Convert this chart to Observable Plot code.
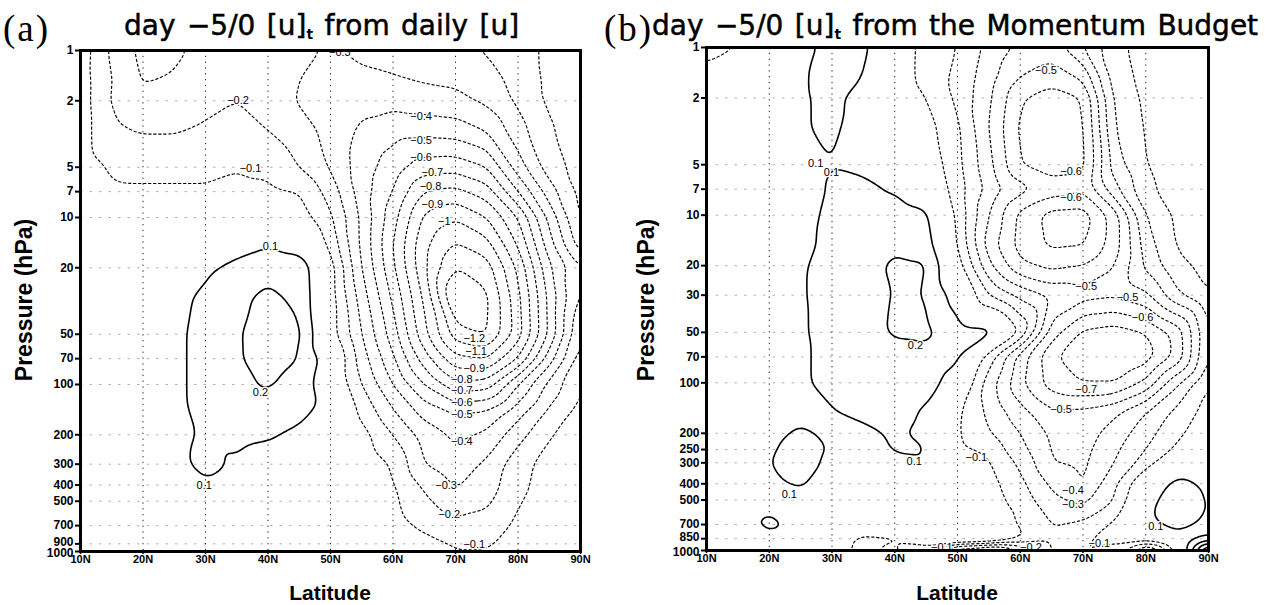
<!DOCTYPE html>
<html>
<head>
<meta charset="utf-8">
<script src="https://cdn.jsdelivr.net/npm/d3@7"></script>
<script src="https://cdn.jsdelivr.net/npm/@observablehq/plot@0.6"></script>
<style>
  body { margin: 0; background: #fff; }
  #page { position: relative; width: 1266px; height: 605px; overflow: hidden; background: #fff; }
  .panel { position: absolute; top: 0; }
  .tag { position: absolute; font-family: "Liberation Serif", "Times New Roman", serif; font-size: 37px; letter-spacing: 2px; line-height: 1; }
  .title { position: absolute; font-family: "DejaVu Sans", sans-serif; font-size: 28px; line-height: 1; white-space: nowrap;
           word-spacing: 2.5px; -webkit-text-stroke: 0.5px #000; }
  .title sub { font-size: 14px; font-weight: bold; vertical-align: -4px; word-spacing: 0; -webkit-text-stroke: 0; }
  .xlab, .ylab { position: absolute; font-family: "Liberation Sans", Arial, sans-serif; font-weight: bold; line-height: 1; white-space: nowrap; }
  .ylab { font-size: 23px; transform: translate(-50%, -50%) rotate(-90deg); }
  .xlab { font-size: 21px; transform: translate(-50%, -50%); }
</style>
</head>
<body>
<div id="page"></div>
<script>
// Latitude columns shared by both panels (degrees N)
const latitudes = [10, 15, 20, 25, 30, 35, 40, 45, 50, 55, 60, 65, 70, 75, 80, 85, 90];
const latTicks = [10, 20, 30, 40, 50, 60, 70, 80, 90];

// (a) tendency of [u] from daily [u]; one row per pressure level (hPa)
const levelsA = [1, 1.5, 2, 3, 5, 7, 10, 15, 20, 30, 50, 70, 100, 150, 200, 300, 400, 500, 700, 850, 1000];
const tendA = [
  [-0.04,-0.22,-0.33,-0.32,-0.27,-0.25,-0.25,-0.28,-0.31,-0.28,-0.26,-0.24,-0.22,-0.19,-0.14,-0.08,-0.05],
  [-0.05,-0.20,-0.31,-0.29,-0.24,-0.23,-0.25,-0.30,-0.33,-0.32,-0.31,-0.29,-0.28,-0.25,-0.16,-0.08,-0.05],
  [-0.05,-0.21,-0.26,-0.24,-0.22,-0.20,-0.24,-0.31,-0.35,-0.37,-0.37,-0.35,-0.33,-0.28,-0.18,-0.08,-0.05],
  [-0.05,-0.19,-0.21,-0.21,-0.19,-0.17,-0.20,-0.26,-0.33,-0.42,-0.46,-0.46,-0.45,-0.39,-0.24,-0.11,-0.05],
  [-0.05,-0.11,-0.12,-0.12,-0.12,-0.105,-0.12,-0.20,-0.31,-0.45,-0.55,-0.65,-0.66,-0.60,-0.35,-0.15,-0.06],
  [-0.05,-0.09,-0.09,-0.09,-0.09,-0.08,-0.08,-0.10,-0.24,-0.45,-0.60,-0.80,-0.83,-0.75,-0.50,-0.25,-0.07],
  [-0.04,-0.07,-0.07,-0.07,-0.06,-0.06,-0.06,-0.05,-0.18,-0.42,-0.66,-0.92,-0.99,-0.90,-0.70,-0.37,-0.08],
  [-0.03,-0.04,-0.03,-0.02,0.02,0.06,0.10,0.06,-0.12,-0.42,-0.70,-0.98,-1.12,-1.05,-0.80,-0.45,-0.15],
  [-0.02,-0.01,0.00,0.02,0.08,0.13,0.17,0.17,-0.05,-0.40,-0.68,-0.98,-1.20,-1.15,-0.88,-0.52,-0.30],
  [0.00,0.02,0.04,0.07,0.12,0.18,0.22,0.18,-0.05,-0.35,-0.62,-0.92,-1.32,-1.22,-0.93,-0.57,-0.27],
  [0.01,0.03,0.05,0.08,0.13,0.19,0.25,0.22,-0.05,-0.30,-0.55,-0.87,-1.15,-1.21,-0.95,-0.58,-0.20],
  [0.02,0.03,0.05,0.08,0.13,0.19,0.24,0.20,0.04,-0.25,-0.48,-0.75,-0.97,-1.00,-0.80,-0.45,-0.15],
  [0.02,0.03,0.05,0.08,0.13,0.18,0.21,0.16,0.02,-0.20,-0.40,-0.60,-0.77,-0.75,-0.50,-0.27,-0.10],
  [0.02,0.03,0.05,0.08,0.12,0.15,0.15,0.12,0.06,-0.12,-0.28,-0.43,-0.50,-0.47,-0.33,-0.17,-0.06],
  [0.02,0.03,0.05,0.08,0.11,0.12,0.11,0.08,0.03,-0.06,-0.20,-0.34,-0.42,-0.38,-0.24,-0.11,-0.04],
  [0.02,0.03,0.05,0.08,0.12,0.09,0.06,0.04,0.02,-0.03,-0.11,-0.30,-0.36,-0.28,-0.14,-0.06,-0.02],
  [0.02,0.03,0.04,0.06,0.09,0.07,0.05,0.03,0.01,-0.02,-0.09,-0.22,-0.31,-0.25,-0.13,-0.05,-0.01],
  [0.01,0.02,0.03,0.04,0.05,0.05,0.04,0.02,0.01,-0.01,-0.08,-0.18,-0.26,-0.22,-0.11,-0.04,-0.01],
  [0.01,0.01,0.02,0.03,0.03,0.03,0.02,0.01,0.00,-0.02,-0.06,-0.12,-0.17,-0.16,-0.08,-0.03,0.00],
  [0.00,0.01,0.01,0.02,0.02,0.02,0.01,0.00,0.00,-0.01,-0.04,-0.08,-0.12,-0.12,-0.06,-0.02,0.00],
  [0.00,0.00,0.01,0.01,0.01,0.01,0.00,0.00,0.00,-0.01,-0.03,-0.06,-0.09,-0.09,-0.05,-0.02,0.00]
];

// (b) tendency of [u] from the momentum budget
const levelsB = [1, 1.5, 2, 3, 5, 7, 10, 15, 20, 30, 50, 70, 100, 150, 200, 250, 300, 400, 500, 600, 700, 850, 925, 1000];
const tendB = [
  [-0.12,-0.10,0.00,0.07,0.13,0.12,0.00,-0.15,-0.20,-0.33,-0.42,-0.45,-0.30,-0.13,-0.06,-0.05,-0.05],
  [-0.08,-0.06,0.00,0.09,0.13,0.10,-0.01,-0.15,-0.22,-0.36,-0.50,-0.55,-0.48,-0.15,-0.07,-0.05,-0.05],
  [-0.05,-0.04,0.00,0.09,0.12,0.07,0.00,-0.10,-0.22,-0.38,-0.59,-0.65,-0.60,-0.18,-0.08,-0.05,-0.05],
  [-0.03,-0.02,0.01,0.09,0.12,0.05,0.00,-0.06,-0.18,-0.40,-0.62,-0.68,-0.62,-0.20,-0.09,-0.06,-0.05],
  [-0.02,-0.01,0.01,0.07,0.098,0.08,0.04,-0.02,-0.17,-0.37,-0.60,-0.66,-0.63,-0.25,-0.10,-0.06,-0.05],
  [-0.01,0.00,0.02,0.06,0.11,0.12,0.09,0.02,-0.15,-0.33,-0.46,-0.54,-0.58,-0.33,-0.12,-0.06,-0.05],
  [0.00,0.01,0.03,0.07,0.12,0.14,0.15,0.12,-0.12,-0.40,-0.63,-0.74,-0.75,-0.55,-0.20,-0.08,-0.06],
  [0.00,0.02,0.04,0.08,0.12,0.15,0.18,0.15,-0.10,-0.45,-0.64,-0.72,-0.71,-0.55,-0.25,-0.09,-0.07],
  [0.01,0.02,0.05,0.09,0.13,0.16,0.22,0.21,-0.05,-0.38,-0.58,-0.63,-0.60,-0.50,-0.28,-0.12,-0.08],
  [0.02,0.03,0.06,0.09,0.14,0.17,0.205,0.20,0.05,-0.20,-0.33,-0.42,-0.46,-0.48,-0.42,-0.22,-0.10],
  [0.02,0.04,0.06,0.09,0.13,0.17,0.21,0.22,0.15,0.14,-0.10,-0.55,-0.72,-0.75,-0.70,-0.56,-0.20],
  [0.02,0.04,0.06,0.09,0.12,0.15,0.17,0.17,0.12,-0.15,-0.45,-0.68,-0.78,-0.82,-0.75,-0.57,-0.18],
  [0.02,0.04,0.06,0.09,0.12,0.14,0.15,0.14,0.05,-0.25,-0.48,-0.65,-0.70,-0.70,-0.58,-0.32,-0.10],
  [0.02,0.04,0.06,0.08,0.095,0.12,0.13,0.09,-0.08,-0.22,-0.36,-0.48,-0.47,-0.42,-0.30,-0.17,-0.06],
  [0.02,0.04,0.08,0.11,0.09,0.08,0.11,0.08,-0.09,-0.19,-0.30,-0.42,-0.44,-0.36,-0.24,-0.12,-0.04],
  [0.02,0.05,0.09,0.13,0.095,0.07,0.105,0.105,-0.08,-0.13,-0.27,-0.41,-0.43,-0.32,-0.20,-0.08,-0.02],
  [0.02,0.05,0.098,0.14,0.08,0.06,0.085,0.095,0.00,-0.09,-0.22,-0.40,-0.42,-0.30,-0.15,0.02,0.02],
  [0.02,0.06,0.09,0.11,0.05,0.02,0.02,0.02,0.00,-0.06,-0.17,-0.32,-0.41,-0.22,0.02,0.13,0.08],
  [0.02,0.05,0.08,0.07,0.03,0.01,0.01,0.01,0.00,-0.05,-0.14,-0.27,-0.33,-0.20,0.06,0.16,0.09],
  [0.02,0.04,0.09,0.05,0.02,0.00,0.00,0.00,0.00,-0.04,-0.11,-0.22,-0.25,-0.14,0.08,0.16,0.09],
  [0.02,0.04,0.14,0.06,0.01,-0.02,-0.03,0.03,0.06,-0.03,-0.12,-0.20,-0.17,-0.08,0.07,0.13,0.08],
  [0.01,0.03,0.05,0.02,-0.02,-0.12,-0.12,0.06,0.15,0.13,-0.08,-0.20,-0.12,-0.06,0.00,0.06,0.08],
  [0.00,0.02,0.03,0.00,-0.05,-0.15,-0.10,-0.05,-0.12,-0.18,-0.22,-0.18,-0.10,-0.08,-0.15,0.05,0.35],
  [0.00,0.00,0.02,0.00,-0.05,-0.12,-0.05,-0.30,-0.80,-0.90,-0.50,-0.20,-0.10,-0.20,-0.70,-0.10,0.80]
];

// Contour levels (interval 0.1): negatives dashed, positives solid
const negLevelsA = [-1.3, -1.2, -1.1, -1.0, -0.9, -0.8, -0.7, -0.6, -0.5, -0.4, -0.3, -0.2, -0.1];
const posLevelsA = [0.1, 0.2];
const negLevelsB = [-0.9, -0.8, -0.7, -0.6, -0.5, -0.4, -0.3, -0.2, -0.1];
const posLevelsB = [0.1, 0.2, 0.3, 0.4, 0.5, 0.6, 0.7, 0.8, 0.9];

// Pressure tick labels
const pTicksA = [1, 2, 5, 7, 10, 20, 50, 70, 100, 200, 300, 400, 500, 700, 900, 1000];
const pTicksB = [1, 2, 5, 7, 10, 20, 30, 50, 70, 100, 200, 250, 300, 400, 500, 700, 850, 1000];

// Contour labels: latitude, pressure, text
const labelsA = [
  {lat: 51.5, p: 1.03, t: "−0.3"}, {lat: 35.2, p: 2.0, t: "−0.2"}, {lat: 37.2, p: 5.1, t: "−0.1"},
  {lat: 40.4, p: 15, t: "0.1"}, {lat: 38.8, p: 112, t: "0.2"}, {lat: 29.8, p: 400, t: "0.1"},
  {lat: 64.5, p: 2.5, t: "−0.4"}, {lat: 64.5, p: 3.45, t: "−0.5"}, {lat: 64.5, p: 4.4, t: "−0.6"},
  {lat: 66.3, p: 5.4, t: "−0.7"}, {lat: 66.0, p: 6.5, t: "−0.8"}, {lat: 66.3, p: 8.3, t: "−0.9"},
  {lat: 68.2, p: 10.5, t: "−1"}, {lat: 73.0, p: 53, t: "−1.2"}, {lat: 73.3, p: 63, t: "−1.1"},
  {lat: 73.0, p: 80, t: "−0.9"}, {lat: 71.0, p: 93, t: "−0.8"}, {lat: 71.0, p: 109, t: "−0.7"},
  {lat: 71.0, p: 128, t: "−0.6"}, {lat: 71.0, p: 151, t: "−0.5"}, {lat: 71.0, p: 219, t: "−0.4"},
  {lat: 68.5, p: 405, t: "−0.3"}, {lat: 69.0, p: 600, t: "−0.2"}, {lat: 73.0, p: 905, t: "−0.1"}
];
const labelsB = [
  {lat: 27.4, p: 4.9, t: "0.1"}, {lat: 29.9, p: 5.6, t: "0.1"}, {lat: 43.3, p: 60, t: "0.2"},
  {lat: 43.1, p: 295, t: "0.1"}, {lat: 23.2, p: 465, t: "0.1"}, {lat: 64.1, p: 1.37, t: "−0.5"},
  {lat: 68.1, p: 5.5, t: "−0.6"}, {lat: 68.1, p: 7.8, t: "−0.6"}, {lat: 70.5, p: 26.7, t: "−0.5"},
  {lat: 77.1, p: 31, t: "−0.5"}, {lat: 79.5, p: 40.6, t: "−0.6"}, {lat: 70.5, p: 110, t: "−0.7"},
  {lat: 66.5, p: 144, t: "−0.5"}, {lat: 53.0, p: 278, t: "−0.1"}, {lat: 68.4, p: 437, t: "−0.4"},
  {lat: 68.4, p: 535, t: "−0.3"}, {lat: 81.6, p: 718, t: "0.1"}, {lat: 72.6, p: 905, t: "−0.1"},
  {lat: 61.7, p: 955, t: "−0.2"}, {lat: 47.5, p: 955, t: "−0.1"}
];

const tickFont = "'Liberation Sans Narrow', 'Arial Narrow', 'Liberation Sans', Arial, sans-serif";

function toCells(levels, rows) {
  const cells = [];
  levels.forEach((p, i) => latitudes.forEach((lat, j) => cells.push({lat, p, v: rows[i][j]})));
  return cells;
}

// nudge the two crowded labels at the foot of the pressure axis apart
const tickShift = d => (d === 1000 ? 2 : d >= 850 && d < 1000 ? -2 : 0);

function panel({levels, rows, pTicks, labels, neg, pos, margins}) {
  const cells = toCells(levels, rows);
  const common = {x: "lat", y: "p", value: "v", interpolate: "barycentric", blur: 2, fill: "none", stroke: "black", clip: "frame"};
  return Plot.plot({
    width: 633,
    height: 605,
    ...margins,
    style: {background: "transparent", overflow: "visible"},
    x: {domain: [10, 90]},
    y: {type: "log", domain: [1, 1000], reverse: true},
    marks: [
      Plot.ruleY(pTicks.filter(d => d > 1 && d < 1000), {stroke: "#b0b0b0", strokeWidth: 1, strokeDasharray: "2.5,7"}),
      Plot.ruleX(latTicks.filter(d => d > 10 && d < 90), {stroke: "#222", strokeWidth: 1, strokeDasharray: "1.3,4.5"}),
      Plot.contour(cells, {...common, thresholds: neg, strokeWidth: 1.15, strokeDasharray: "3.2,1.8"}),
      Plot.contour(cells, {...common, thresholds: pos, strokeWidth: 1.6}),
      Plot.text(labels, {x: "lat", y: "p", text: "t", fontSize: 11, fontFamily: "'Liberation Sans', Arial, sans-serif",
        fill: "black", stroke: "white", strokeWidth: 3, clip: "frame"}),
      Plot.frame({stroke: "black", strokeWidth: 3}),
      // pressure ticks, then their labels
      Plot.axisY({ticks: pTicks, tickFormat: () => "", tickSize: 5, strokeWidth: 2, label: null}),
      Plot.text(pTicks.filter(d => !tickShift(d)), {y: d => d, text: d => String(d), frameAnchor: "left", textAnchor: "end", dx: -7,
        fontSize: 12, fontWeight: "bold", fontFamily: tickFont, fill: "black"}),
      Plot.text(pTicks.filter(d => tickShift(d) < 0), {y: d => d, text: d => String(d), frameAnchor: "left", textAnchor: "end", dx: -7, dy: -2,
        fontSize: 12, fontWeight: "bold", fontFamily: tickFont, fill: "black"}),
      Plot.text(pTicks.filter(d => tickShift(d) > 0), {y: d => d, text: d => String(d), frameAnchor: "left", textAnchor: "end", dx: -7, dy: 2,
        fontSize: 12, fontWeight: "bold", fontFamily: tickFont, fill: "black"}),
      Plot.axisX({ticks: latTicks, tickFormat: d => d + "N", tickSize: 3, tickPadding: 1, strokeWidth: 1.5,
        fontSize: 11, fontWeight: "bold", fontFamily: tickFont, label: null})
    ]
  });
}

const page = document.getElementById("page");

function place(node, left) {
  node.classList.add("panel");
  node.style.left = left + "px";
  page.appendChild(node);
}

place(panel({levels: levelsA, rows: tendA, pTicks: pTicksA, labels: labelsA, neg: negLevelsA, pos: posLevelsA,
  margins: {marginLeft: 80, marginRight: 53, marginTop: 50, marginBottom: 54}}), 0);
place(panel({levels: levelsB, rows: tendB, pTicks: pTicksB, labels: labelsB, neg: negLevelsB, pos: posLevelsB,
  margins: {marginLeft: 73, marginRight: 58, marginTop: 47, marginBottom: 55}}), 633);

function addHTML(cls, html, left, top) {
  const d = document.createElement("div");
  d.className = cls;
  d.innerHTML = html;
  d.style.left = left + "px";
  d.style.top = top + "px";
  page.appendChild(d);
}

addHTML("tag", "(a)", 3, 10);
addHTML("title", "day −5/0 [u]<sub>t</sub> from daily [u]", 124, 12);
addHTML("tag", "(b)", 604, 10);
addHTML("title", "day −5/0 [u]<sub>t</sub> from the Momentum Budget", 652, 12);
addHTML("xlab", "Latitude", 330, 592);
addHTML("xlab", "Latitude", 957, 592);
addHTML("ylab", "Pressure (hPa)", 24, 300);
addHTML("ylab", "Pressure (hPa)", 646, 300);
</script>
</body>
</html>
